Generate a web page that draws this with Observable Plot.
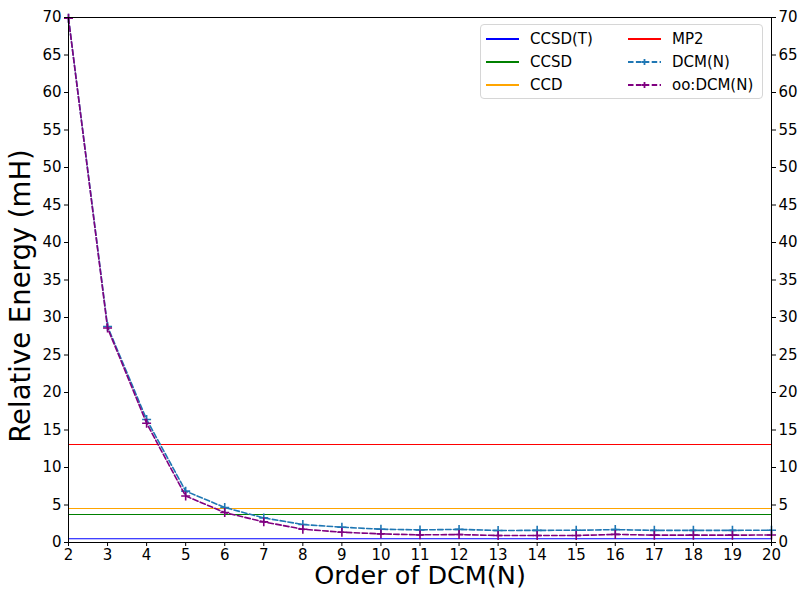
<!DOCTYPE html>
<html>
<head>
<meta charset="utf-8">
<script src="https://cdn.jsdelivr.net/npm/d3@7"></script>
<script src="https://cdn.jsdelivr.net/npm/@observablehq/plot@0.6"></script>
<style>
  body { margin: 0; background: #fff; font-family: "DejaVu Sans", sans-serif; }
  #wrap { position: relative; width: 799px; height: 594px; }
  #legend { position: absolute; left: 480px; top: 24px; width: 283px; height: 75px;
    border: 1px solid #d6d6d6; border-radius: 4px; background: rgba(255,255,255,0.85);
    box-sizing: border-box; font-size: 15px; color: #000; }
  .item { position: absolute; height: 20px; display: flex; align-items: center; }
  .item svg { margin-right: 11px; }
</style>
</head>
<body>
<div id="wrap"><div id="legend"></div></div>
<script>
// Order of DCM(N)
const orders = [2,3,4,5,6,7,8,9,10,11,12,13,14,15,16,17,18,19,20];
// DCM(N) relative energies (mH)
const dcmValues = [69.9, 28.8, 16.4, 6.85, 4.67, 3.28, 2.4, 2.04, 1.77, 1.68, 1.75, 1.6, 1.62, 1.63, 1.72, 1.62, 1.62, 1.62, 1.64];
// oo:DCM(N) relative energies (mH)
const ooDcmValues = [69.9, 28.6, 15.9, 6.2, 4.0, 2.75, 1.77, 1.37, 1.15, 1.02, 1.06, 0.93, 0.93, 0.93, 1.08, 0.98, 0.98, 0.98, 1.0];
// Reference methods (horizontal lines)
const refNames = ["CCSD(T)", "CCSD", "CCD", "MP2"];
const refValues = [0.5, 3.73, 4.53, 13.07];
const refColors = ["#0000ff", "#008000", "#ffa500", "#ff0000"];
const seriesNames = ["DCM(N)", "oo:DCM(N)"];
const seriesColors = ["#1f77b4", "#800080"];
const yTicks = [0,5,10,15,20,25,30,35,40,45,50,55,60,65,70];
const xLabel = "Order of DCM(N)";
const yLabel = "Relative Energy (mH)";

const refs = refNames.map((name, i) => ({name, value: refValues[i], color: refColors[i]}));
const dcm = orders.map((n, i) => ({n, v: dcmValues[i]}));
const oo = orders.map((n, i) => ({n, v: ooDcmValues[i]}));

const font = "DejaVu Sans, sans-serif";
const chart = Plot.plot({
  width: 799,
  height: 594,
  marginLeft: 68,
  marginRight: 28,
  marginTop: 17,
  marginBottom: 52,
  style: {fontFamily: font, background: "#fff", color: "#000"},
  x: {domain: [2, 20]},
  y: {domain: [0, 70]},
  marks: [
    Plot.ruleY(refs, {y: "value", stroke: "color", strokeWidth: 1.1}),
    Plot.line(dcm, {x: "n", y: "v", stroke: seriesColors[0], strokeWidth: 1.6, strokeDasharray: "5.5,2.4"}),
    Plot.dot(dcm, {x: "n", y: "v", symbol: "plus", r: 3, stroke: seriesColors[0], strokeWidth: 1.6}),
    Plot.line(oo, {x: "n", y: "v", stroke: seriesColors[1], strokeWidth: 1.6, strokeDasharray: "5.5,2.4"}),
    Plot.dot(oo, {x: "n", y: "v", symbol: "plus", r: 3, stroke: seriesColors[1], strokeWidth: 1.6}),
    Plot.frame({stroke: "#000", strokeWidth: 1}),
    Plot.axisX({ticks: orders, tickFormat: d3.format("d"), tickSize: 4, tickPadding: 3, fontSize: 15, label: null}),
    Plot.axisY({anchor: "left", ticks: yTicks, tickSize: 4, tickPadding: 3, fontSize: 15, label: null}),
    Plot.axisY({anchor: "right", ticks: yTicks, tickSize: 4, tickPadding: 3, fontSize: 15, label: null}),
    Plot.text([yLabel], {frameAnchor: "left", textAnchor: "middle", rotate: -90, dx: -47, dy: 16, fontSize: 27.5, text: d => d, fill: "#000"}),
    Plot.text([xLabel], {frameAnchor: "bottom", textAnchor: "middle", dy: 41, fontSize: 25.5, text: d => d, fill: "#000"})
  ]
});
document.getElementById("wrap").prepend(chart);

// Legend
const legend = document.getElementById("legend");
const entries = [
  ...refs.slice(0, 3).map((r, i) => ({name: r.name, color: r.color, dash: false, col: 0, row: i})),
  {name: refs[3].name, color: refs[3].color, dash: false, col: 1, row: 0},
  {name: seriesNames[0], color: seriesColors[0], dash: true, col: 1, row: 1},
  {name: seriesNames[1], color: seriesColors[1], dash: true, col: 1, row: 2}
];
for (const e of entries) {
  const div = document.createElement("div");
  div.className = "item";
  div.style.left = (e.col === 0 ? 5 : 147) + "px";
  div.style.top = (4 + e.row * 23) + "px";
  const sw = e.dash
    ? `<svg width="33" height="12"><line x1="0" y1="6" x2="33" y2="6" stroke="${e.color}" stroke-width="1.8" stroke-dasharray="5.5,2.4"/><path d="M13.5,6h6M16.5,3v6" stroke="${e.color}" stroke-width="1.8"/></svg>`
    : `<svg width="33" height="12"><line x1="0" y1="6" x2="33" y2="6" stroke="${e.color}" stroke-width="1.8"/></svg>`;
  div.innerHTML = sw + `<span>${e.name}</span>`;
  legend.appendChild(div);
}
</script>
</body>
</html>
